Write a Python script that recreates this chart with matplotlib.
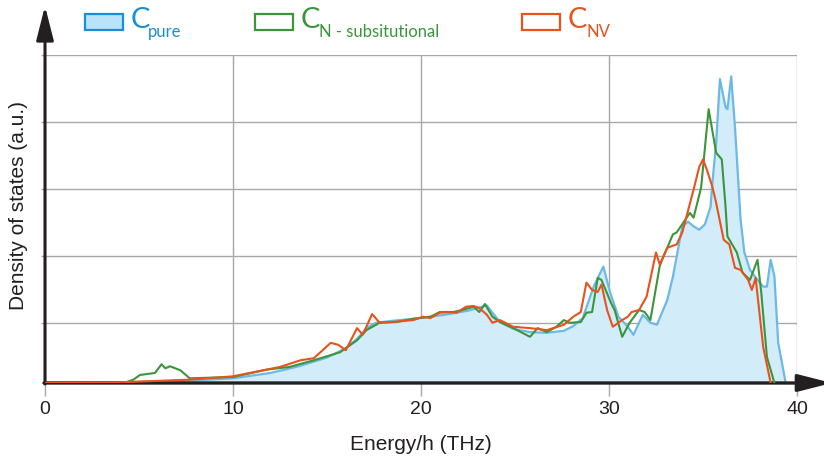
import matplotlib
matplotlib.use("Agg")
import matplotlib.pyplot as plt
from matplotlib.patches import Rectangle

# Density of states (x: Energy/h in THz, y: a.u.)
pure_x = [0, 4, 8, 10, 12, 13.5, 15, 16, 16.6, 17.1, 17.6, 18.5, 20, 21.5, 22.5,
          23.5, 23.8, 24.2, 24.9, 25.8, 26.7, 27.6, 28.1, 28.6, 29.2, 29.7, 30.05,
          30.5, 31.0, 31.3, 31.8, 32.2, 32.55, 33.1, 33.4, 33.7, 33.9, 34.2, 34.5,
          34.8, 35.1, 35.4, 35.5, 35.7, 35.9, 36.2, 36.3, 36.5, 36.7, 37.0, 37.2,
          37.5, 37.9, 38.2, 38.4, 38.6, 38.8, 39.0, 39.4]
pure_y = [0, 0.01, 0.04, 0.07, 0.15, 0.25, 0.38, 0.52, 0.66, 0.82, 0.9, 0.93, 0.97,
          1.03, 1.08, 1.16, 1.05, 0.91, 0.81, 0.76, 0.75, 0.78, 0.85, 0.97, 1.45,
          1.74, 1.36, 0.99, 0.84, 0.72, 1.02, 0.9, 0.87, 1.24, 1.59, 2.04, 2.34,
          2.41, 2.34, 2.29, 2.37, 2.63, 2.99, 3.59, 4.54, 4.12, 4.09, 4.58, 3.83,
          2.44, 1.95, 1.69, 1.54, 1.44, 1.44, 1.84, 1.59, 0.6, 0]

nsub_x = [0, 4.2, 4.7, 5.05, 5.85, 6.2, 6.4, 6.65, 7.2, 7.7, 10, 11.8, 13.0, 14.3,
          15.7, 16.6, 17.1, 17.8, 18.7, 19.6, 20.5, 21.0, 21.7, 22.2, 22.8, 23.1,
          23.4, 23.8, 24.2, 24.9, 25.8, 26.2, 26.7, 27.2, 27.6, 27.9, 28.5, 28.8,
          29.1, 29.4, 29.6, 30.1, 30.3, 30.7, 31.1, 31.6, 31.9, 32.2, 32.7, 32.9,
          33.4, 33.6, 34.3, 34.5, 34.9, 35.3, 35.7, 36.0, 36.2, 36.3, 36.8, 37.1,
          37.5, 37.9, 38.1, 38.4, 38.8]
nsub_y = [0, 0.0, 0.05, 0.12, 0.15, 0.28, 0.22, 0.25, 0.19, 0.07, 0.09, 0.2, 0.24,
          0.34, 0.46, 0.64, 0.79, 0.9, 0.91, 0.96, 0.99, 1.06, 1.06, 1.09, 1.14,
          1.06, 1.18, 0.99, 0.91, 0.82, 0.69, 0.82, 0.76, 0.84, 0.94, 0.9, 0.91,
          1.05, 1.06, 1.57, 1.54, 1.2, 1.09, 0.69, 0.9, 1.09, 1.06, 0.94, 1.75,
          1.89, 2.22, 2.25, 2.54, 2.47, 2.92, 4.09, 3.44, 3.34, 2.63, 2.19, 1.95,
          1.65, 1.54, 1.84, 1.35, 0.39, 0]

nv_x = [0, 4, 7.7, 10, 12.5, 13.6, 14.3, 15.2, 15.6, 16.0, 16.6, 16.9, 17.4, 17.8,
        18.4, 19.6, 20.1, 20.5, 21.0, 21.5, 21.9, 22.4, 22.8, 23.1, 23.5, 23.8,
        24.2, 24.9, 25.8, 26.7, 27.6, 28.1, 28.5, 28.8, 29.1, 29.4, 29.6, 29.9,
        30.2, 30.7, 31.0, 31.2, 31.6, 32.0, 32.5, 32.7, 33.1, 33.6, 33.9, 34.5,
        34.8, 35.0, 35.2, 35.5, 35.7, 36.1, 36.4, 36.7, 37.0, 37.4, 37.6, 37.8,
        38.2, 38.6]
nv_y = [0, 0.01, 0.05, 0.1, 0.24, 0.34, 0.37, 0.6, 0.57, 0.49, 0.82, 0.72, 1.03,
        0.9, 0.91, 0.94, 0.99, 0.97, 1.05, 1.06, 1.05, 1.14, 1.15, 1.12, 1.02, 0.9,
        0.94, 0.84, 0.82, 0.79, 0.87, 0.99, 1.06, 1.5, 1.39, 1.36, 1.47, 1.09, 0.84,
        0.94, 0.99, 1.06, 1.09, 1.29, 1.95, 1.77, 2.02, 2.07, 2.25, 2.89, 3.23,
        3.34, 3.19, 2.93, 2.69, 2.14, 2.07, 1.72, 1.69, 1.54, 1.39, 1.57, 0.54, 0]

x_ticks = [0, 10, 20, 30, 40]
y_grid = [0.9, 1.9, 2.9, 3.9, 4.9]

BLUE_LINE = '#6cb9e4'
BLUE_FILL = '#d2ecf9'
BLUE_TEXT = '#1b8fd6'
GREEN = '#3b963b'
RED = '#e8521d'
DARK = '#231f20'
GRID = '#a8a8a8'

W, H = 824, 457
fig = plt.figure(figsize=(W / 100, H / 100), dpi=100)
ax = fig.add_axes([45 / W, 1 - 383 / H, 752 / W, 328 / H])

def fx(px):
    return px / W

def fy(py):
    return 1 - py / H

# curves
ax.fill_between(pure_x, pure_y, 0, color=BLUE_FILL, lw=0, zorder=1)
ax.plot(pure_x, pure_y, color=BLUE_LINE, lw=1.6, zorder=3)
ax.plot(nsub_x, nsub_y, color=GREEN, lw=1.5, zorder=4)
ax.plot(nv_x, nv_y, color=RED, lw=1.5, zorder=5)

ax.set_xlim(0, 40)
ax.set_ylim(0, 4.9)
ax.set_xticks(x_ticks)
ax.set_yticks(y_grid)
ax.grid(True, color=GRID, lw=1.0, zorder=0)
ax.set_axisbelow(True)
for s in ax.spines.values():
    s.set_visible(False)
ax.tick_params(axis='x', direction='out', length=9, width=1.0, color=GRID,
               labelsize=14, labelcolor=DARK, pad=4)
ax.tick_params(axis='y', direction='out', length=3, width=1.0, color=GRID,
               labelleft=False)
for lab in ax.get_xticklabels():
    lab.set_fontfamily('Liberation Sans')

# axes arrows
head = '-|>,head_length=1.3,head_width=0.33'
ax.annotate('', xy=(fx(45), fy(6)), xytext=(fx(45), fy(384)),
            xycoords='figure fraction', textcoords='figure fraction',
            arrowprops=dict(arrowstyle=head, mutation_scale=16, lw=2.2,
                            color=DARK, shrinkA=0, shrinkB=0))
ax.annotate('', xy=(fx(832), fy(383)), xytext=(fx(44), fy(383)),
            xycoords='figure fraction', textcoords='figure fraction',
            arrowprops=dict(arrowstyle=head, mutation_scale=16, lw=2.4,
                            color=DARK, shrinkA=0, shrinkB=0))

# axis labels
fig.text(fx(421), fy(450), 'Energy/h (THz)', ha='center', va='baseline',
         fontsize=15, color=DARK, family='Liberation Sans')
fig.text(fx(19), fy(205), 'Density of states (a.u.)', ha='center', va='center',
         rotation=90, fontsize=15, color=DARK, family='Liberation Sans')

# legend drawn by hand
legend_items = [
    (85, 131, 148, 'pure', BLUE_TEXT, '#b9e3f8', BLUE_TEXT),
    (255, 301, 319, 'N - subsitutional', GREEN, 'white', GREEN),
    (522, 568, 587, 'NV', RED, 'white', RED),
]
for rx, cx, sx, sub, edge, face, tcol in legend_items:
    fig.patches.append(Rectangle((fx(rx), fy(30)), 38 / W, 16 / H,
                                 transform=fig.transFigure, facecolor=face,
                                 edgecolor=edge, lw=1.6))
    fig.text(fx(cx), fy(28), 'C', ha='left', va='baseline', fontsize=21,
             color=tcol, family='Lato')
    fig.text(fx(sx), fy(37), sub, ha='left', va='baseline', fontsize=12,
             color=tcol, family='Lato')

fig.savefig('out.png', dpi=100)
